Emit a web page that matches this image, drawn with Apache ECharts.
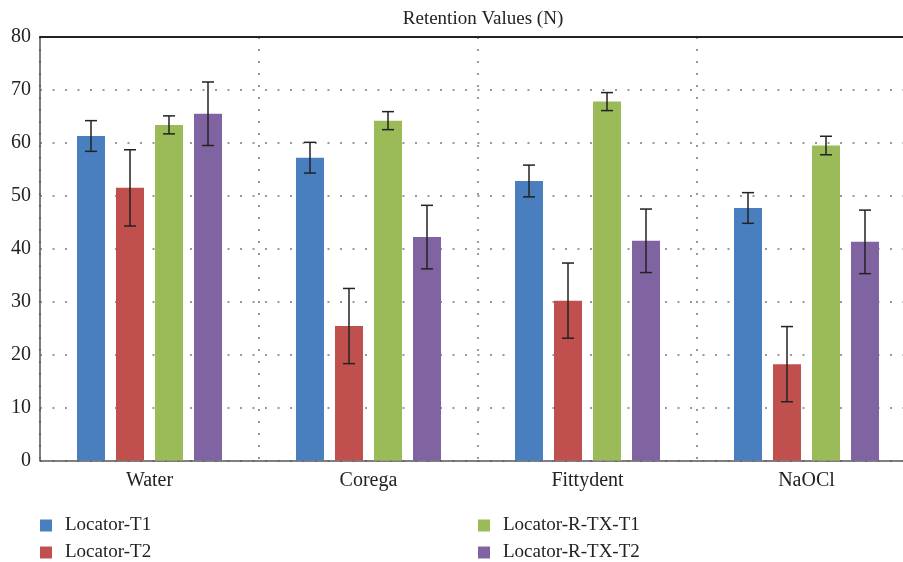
<!DOCTYPE html>
<html>
<head>
<meta charset="utf-8">
<script src="https://cdn.jsdelivr.net/npm/echarts@6/dist/echarts.min.js"></script>
<style>
  html, body { margin: 0; padding: 0; background: #fff; }
  #chart { width: 903px; height: 562px; }
</style>
</head>
<body>
<div id="chart"></div>
<script>
const categories = ['Water', 'Corega', 'Fittydent', 'NaOCl'];
const seriesNames = ['Locator-T1', 'Locator-T2', 'Locator-R-TX-T1', 'Locator-R-TX-T2'];
const locatorT1 = [61.3, 57.2, 52.8, 47.7];
const locatorT2 = [51.5, 25.4, 30.2, 18.2];
const locatorRTXT1 = [63.4, 64.2, 67.8, 59.5];
const locatorRTXT2 = [65.5, 42.2, 41.5, 41.3];
const errT1 = [2.9, 2.9, 3.0, 2.9];
const errT2 = [7.2, 7.1, 7.1, 7.1];
const errRTXT1 = [1.7, 1.7, 1.7, 1.75];
const errRTXT2 = [6.0, 6.0, 6.0, 6.0];
const yTicks = { min: 0, max: 80, interval: 10 };

const values = [locatorT1, locatorT2, locatorRTXT1, locatorRTXT2];
const errors = [errT1, errT2, errRTXT1, errRTXT2];
const colors = ['#4a7fbf', '#c0504d', '#9bbb59', '#8064a2'];
const FONT = 'Liberation Serif';
const BAR_W = 28, BAR_GAP = 11;

const chart = echarts.init(document.getElementById('chart'));

const barSeries = values.map((v, i) => ({
  name: seriesNames[i],
  type: 'bar',
  data: v,
  barWidth: BAR_W,
  barGap: (BAR_GAP / BAR_W * 100) + '%',
  itemStyle: { color: colors[i] },
  z: 2
}));

const errSeries = values.map((v, i) => ({
  type: 'custom',
  name: 'err' + i,
  data: v.map((val, j) => [j, val - errors[i][j], val + errors[i][j]]),
  z: 5,
  silent: true,
  renderItem: function (params, api) {
    const off = (i - 1.5) * (BAR_W + BAR_GAP);
    const lo = api.coord([api.value(0), api.value(1)]);
    const hi = api.coord([api.value(0), api.value(2)]);
    const x = lo[0] + off;
    const cap = 6;
    const style = { stroke: '#222', lineWidth: 1.5 };
    return {
      type: 'group',
      children: [
        { type: 'line', shape: { x1: x, y1: lo[1], x2: x, y2: hi[1] }, style },
        { type: 'line', shape: { x1: x - cap, y1: lo[1], x2: x + cap, y2: lo[1] }, style },
        { type: 'line', shape: { x1: x - cap, y1: hi[1], x2: x + cap, y2: hi[1] }, style }
      ]
    };
  }
}));

const legendPos = [[40, 516], [40, 543], [478, 516], [478, 543]];
const legends = seriesNames.map((n, i) => ({
  left: legendPos[i][0],
  top: legendPos[i][1],
  data: [n],
  icon: 'rect',
  itemWidth: 12,
  itemHeight: 12,
  padding: 0,
  textStyle: { fontFamily: FONT, fontSize: 19, lineHeight: 14, color: '#222', padding: [0, 0, 0, 8] }
}));

chart.setOption({
  animation: false,
  backgroundColor: '#fff',
  title: {
    text: 'Retention Values (N)',
    left: 478,
    textAlign: 'center',
    top: 5,
    textStyle: { fontFamily: FONT, fontSize: 19, fontWeight: 'normal', color: '#222' }
  },
  legend: legends,
  grid: { left: 40, width: 876, top: 37, height: 423.5, outerBoundsMode: 'none', containLabel: false },
  xAxis: [
    {
      type: 'category',
      data: categories,
      axisTick: { show: false },
      axisLine: { lineStyle: { color: '#555', width: 1.5 } },
      axisLabel: { fontFamily: FONT, fontSize: 20, color: '#222', margin: 10 },
      splitLine: { show: true, lineStyle: { color: '#999', width: 2, type: [2, 10] } }
    },
    {
      type: 'category',
      data: categories,
      position: 'top',
      axisTick: { show: false },
      axisLabel: { show: false },
      axisLine: { lineStyle: { color: '#222', width: 2 } }
    }
  ],
  yAxis: {
    type: 'value',
    min: yTicks.min,
    max: yTicks.max,
    interval: yTicks.interval,
    axisLine: { show: true, lineStyle: { color: '#555', width: 1.5 } },
    axisTick: { show: false },
    axisLabel: { fontFamily: FONT, fontSize: 20, color: '#222', margin: 9 },
    splitLine: { show: true, lineStyle: { color: '#999', width: 2, type: [2, 10.5] } }
  },
  series: barSeries.concat(errSeries)
});
</script>
</body>
</html>
